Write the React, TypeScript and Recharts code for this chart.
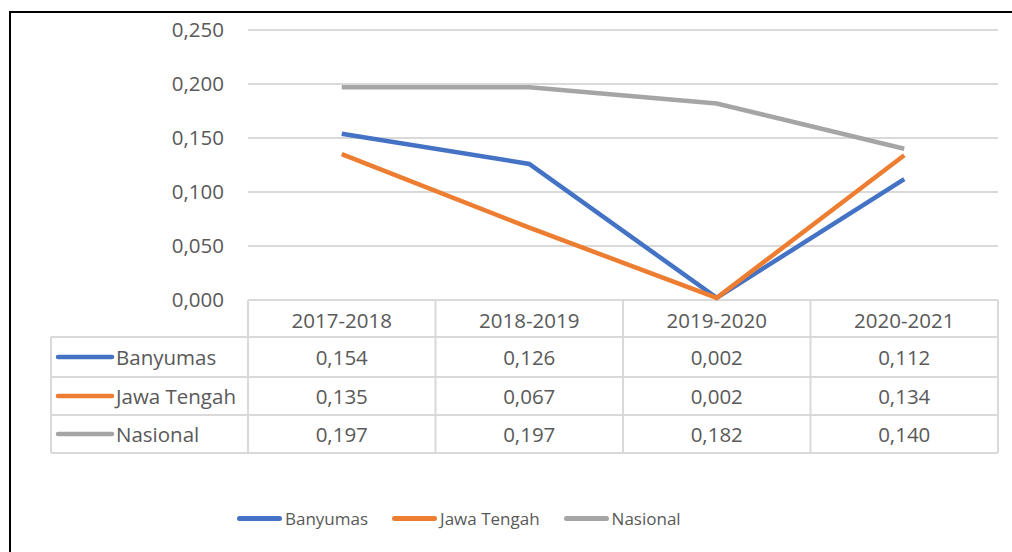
import React from 'react';
import { LineChart, Line, XAxis, YAxis, CartesianGrid } from 'recharts';

const years = ['2017-2018', '2018-2019', '2019-2020', '2020-2021'];
const banyumas = [0.154, 0.126, 0.002, 0.112];
const jawaTengah = [0.135, 0.067, 0.002, 0.134];
const nasional = [0.197, 0.197, 0.182, 0.14];
const yTicks = [0, 0.05, 0.1, 0.15, 0.2, 0.25];

const series = [
  { key: 'banyumas', name: 'Banyumas', color: '#4472C4', values: banyumas },
  { key: 'jawaTengah', name: 'Jawa Tengah', color: '#ED7D31', values: jawaTengah },
  { key: 'nasional', name: 'Nasional', color: '#A5A5A5', values: nasional },
];

const data = years.map((year, i) => ({
  year,
  banyumas: banyumas[i],
  jawaTengah: jawaTengah[i],
  nasional: nasional[i],
}));

const FONT = '"Open Sans", sans-serif';
const TEXT = '#595959';
const GRID = '#d9d9d9';

// layout in page pixels (container is fixed at 0,0)
const W = 1012;
const H = 552;
const PLOT_LEFT = 248;
const PLOT_RIGHT = 998;
const PLOT_TOP = 30;
const PLOT_BOTTOM = 300;
const TABLE_LEFT = 51;
const ROWS = [300, 337, 377, 415, 453];

const fmt = (v: number) => v.toFixed(3).replace('.', ',');

function DataTable() {
  const colW = (PLOT_RIGHT - PLOT_LEFT) / years.length;
  const colEdges = years.map((_, i) => PLOT_LEFT + i * colW).concat(PLOT_RIGHT);
  return (
    <svg width={W} height={H} style={{ position: 'absolute', left: 0, top: 0 }}>
      <line x1={PLOT_LEFT} x2={PLOT_RIGHT} y1={ROWS[0]} y2={ROWS[0]} stroke={GRID} strokeWidth={2} />
      {ROWS.slice(1).map((y) => (
        <line key={y} x1={TABLE_LEFT} x2={PLOT_RIGHT} y1={y} y2={y} stroke={GRID} strokeWidth={2} />
      ))}
      <line x1={TABLE_LEFT} x2={TABLE_LEFT} y1={ROWS[1]} y2={ROWS[4]} stroke={GRID} strokeWidth={2} />
      {colEdges.map((x) => (
        <line key={x} x1={x} x2={x} y1={ROWS[0]} y2={ROWS[4]} stroke={GRID} strokeWidth={2} />
      ))}
      {years.map((y, i) => (
        <text
          key={y}
          x={PLOT_LEFT + (i + 0.5) * colW}
          y={(ROWS[0] + ROWS[1]) / 2 + 1}
          textAnchor="middle"
          dominantBaseline="central"
          fill={TEXT}
          fontSize={20.5}
          fontFamily={FONT}
        >
          {y}
        </text>
      ))}
      {series.map((s, r) => {
        const cy = (ROWS[r + 1] + ROWS[r + 2]) / 2;
        return (
          <g key={s.key}>
            <line x1={TABLE_LEFT + 7} x2={TABLE_LEFT + 61} y1={cy} y2={cy} stroke={s.color} strokeWidth={4.5} strokeLinecap="round" />
            <text x={TABLE_LEFT + 65} y={cy} dominantBaseline="central" fill={TEXT} fontSize={20.5} fontFamily={FONT}>
              {s.name}
            </text>
            {s.values.map((v, i) => (
              <text
                key={i}
                x={PLOT_LEFT + (i + 0.5) * colW}
                y={cy}
                textAnchor="middle"
                dominantBaseline="central"
                fill={TEXT}
                fontSize={20.5}
                fontFamily={FONT}
              >
                {fmt(v)}
              </text>
            ))}
          </g>
        );
      })}
    </svg>
  );
}

function BottomLegend() {
  return (
    <div
      style={{
        position: 'absolute',
        left: 237,
        top: 507,
        display: 'flex',
        alignItems: 'center',
        gap: 24,
        fontFamily: FONT,
        fontSize: 17,
        color: TEXT,
      }}
    >
      {series.map((s) => (
        <div key={s.key} style={{ display: 'flex', alignItems: 'center' }}>
          <div style={{ width: 45, height: 4.5, borderRadius: 3, background: s.color, marginRight: 3 }} />
          <span>{s.name}</span>
        </div>
      ))}
    </div>
  );
}

export default function App() {
  const pad = (PLOT_RIGHT - PLOT_LEFT) / years.length / 2;
  return (
    <div style={{ position: 'fixed', left: 0, top: 0, width: W, height: H, overflow: 'hidden', background: '#fff' }}>
      <div
        style={{
          position: 'absolute',
          left: 9,
          top: 11,
          width: 1040,
          height: 600,
          border: '2px solid #000',
          boxSizing: 'border-box',
        }}
      />
      <DataTable />
      <div style={{ position: 'absolute', left: 0, top: 0 }}>
        <LineChart
          width={W}
          height={H}
          data={data}
          margin={{ top: PLOT_TOP, right: W - PLOT_RIGHT, bottom: H - PLOT_BOTTOM, left: PLOT_LEFT - 80 }}
        >
          <CartesianGrid vertical={false} stroke={GRID} strokeWidth={2} />
          <XAxis dataKey="year" hide padding={{ left: pad, right: pad }} />
          <YAxis
            width={80}
            domain={[0, 0.25]}
            ticks={yTicks}
            axisLine={false}
            tickLine={false}
            tickSize={0}
            tickMargin={24}
            tickFormatter={fmt}
            tick={{ fill: TEXT, fontSize: 20.5, fontFamily: FONT }}
          />
          {series.map((s) => (
            <Line
              key={s.key}
              dataKey={s.key}
              name={s.name}
              type="linear"
              stroke={s.color}
              strokeWidth={4.5}
              dot={false}
              activeDot={false}
              isAnimationActive={false}
            />
          ))}
        </LineChart>
      </div>
      <BottomLegend />
    </div>
  );
}
